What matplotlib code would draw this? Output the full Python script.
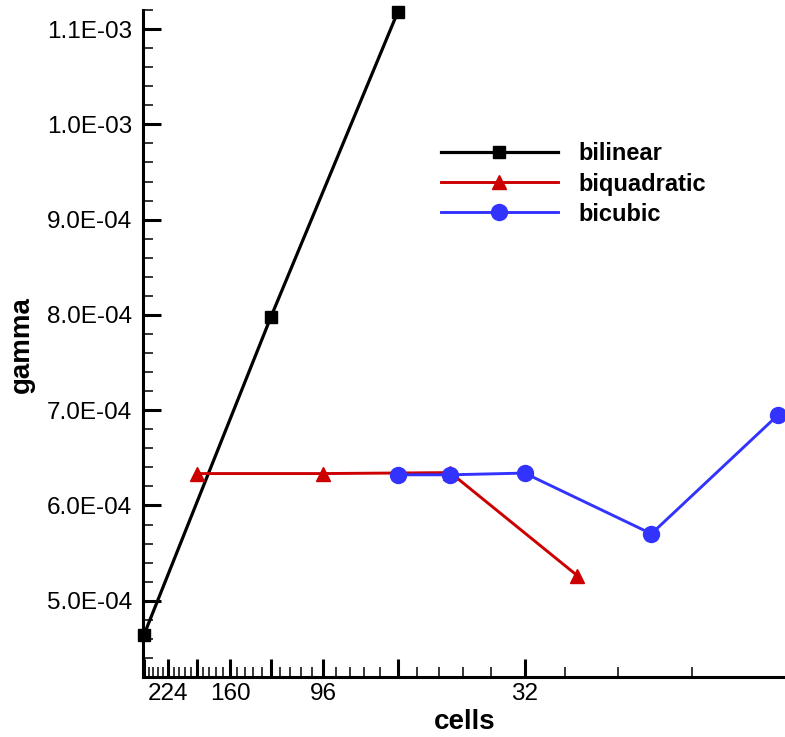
import numpy as np
import matplotlib
matplotlib.use("Agg")
import matplotlib.pyplot as plt
from matplotlib.ticker import FixedLocator, FixedFormatter, FuncFormatter, MultipleLocator

plt.rcParams['font.family'] = ['Liberation Sans', 'DejaVu Sans']

# ---- data ----
bilinear_cells = [256, 128, 64]
bilinear_gamma = [4.643e-4, 7.977e-4, 1.1177e-3]

biquad_cells = [192, 96, 48, 24]
biquad_gamma = [6.335e-4, 6.335e-4, 6.345e-4, 5.265e-4]

bicubic_cells = [64, 48, 32, 16, 8]
bicubic_gamma = [6.322e-4, 6.322e-4, 6.34e-4, 5.703e-4, 6.952e-4]

x_major = [256, 224, 192, 160, 128, 96, 64, 32]
x_labels = ['', '224', '', '160', '', '96', '', '32']

W, H = 785, 737
fig = plt.figure(figsize=(W / 100, H / 100), dpi=100)
ax = fig.add_axes([143 / W, (H - 677) / H, (785 - 143) / W, (677 - 10) / H])

ax.plot(bilinear_cells, bilinear_gamma, color='black', lw=2.3, marker='s',
        ms=9.3, mec='black', mfc='black', label='bilinear', clip_on=False, zorder=3)
ax.plot(biquad_cells, biquad_gamma, color='#cc0000', lw=2.1, marker='^',
        ms=10.5, mec='#cc0000', mfc='#cc0000', label='biquadratic', clip_on=False, zorder=3)
ax.plot(bicubic_cells, bicubic_gamma, color='#3333ff', lw=2.1, marker='o',
        ms=11.5, mec='#3333ff', mfc='#3333ff', label='bicubic', clip_on=False, zorder=4)

ax.set_xscale('log')
ax.set_xlim(257.4, 7.71)
ax.set_ylim(4.2e-4, 1.12e-3)

ax.xaxis.set_major_locator(FixedLocator(x_major))
ax.xaxis.set_major_formatter(FixedFormatter(x_labels))
minor_x = [v for v in np.arange(256, 7, -6.4) if all(abs(v - m) > 1e-6 for m in x_major)]
ax.xaxis.set_minor_locator(FixedLocator(minor_x))
ax.xaxis.set_minor_formatter(FixedFormatter([''] * len(minor_x)))

ax.yaxis.set_major_locator(MultipleLocator(1e-4))
ax.yaxis.set_minor_locator(MultipleLocator(2e-5))
ax.yaxis.set_major_formatter(FuncFormatter(lambda v, p: f"{v:.1E}"))

for s in ['top', 'right']:
    ax.spines[s].set_visible(False)
for s in ['left', 'bottom']:
    ax.spines[s].set_linewidth(2.2)

ax.tick_params(axis='both', which='major', direction='in', length=13, width=2.2,
               labelsize=17.5, color='black')
ax.tick_params(axis='both', which='minor', direction='in', length=7.5, width=1.1)
ax.tick_params(axis='y', which='major', pad=8)
ax.tick_params(axis='x', which='major', pad=4.5)

fig.text(22 / W, 1 - 345 / H, 'gamma', rotation=90, ha='center', va='center',
         fontsize=20, fontweight='bold')
fig.text(465 / W, 1 - 722 / H, 'cells', ha='center', va='center',
         fontsize=20, fontweight='bold')

leg = ax.legend(loc='upper left', bbox_to_anchor=(440.7 / W, 1 - 142.5 / H),
                bbox_transform=fig.transFigure, frameon=False, borderpad=0,
                borderaxespad=0, handlelength=4.98, handletextpad=0.85,
                labelspacing=0.3, numpoints=1, prop={'size': 17, 'weight': 'bold'})

fig.savefig('out.png', dpi=100)
